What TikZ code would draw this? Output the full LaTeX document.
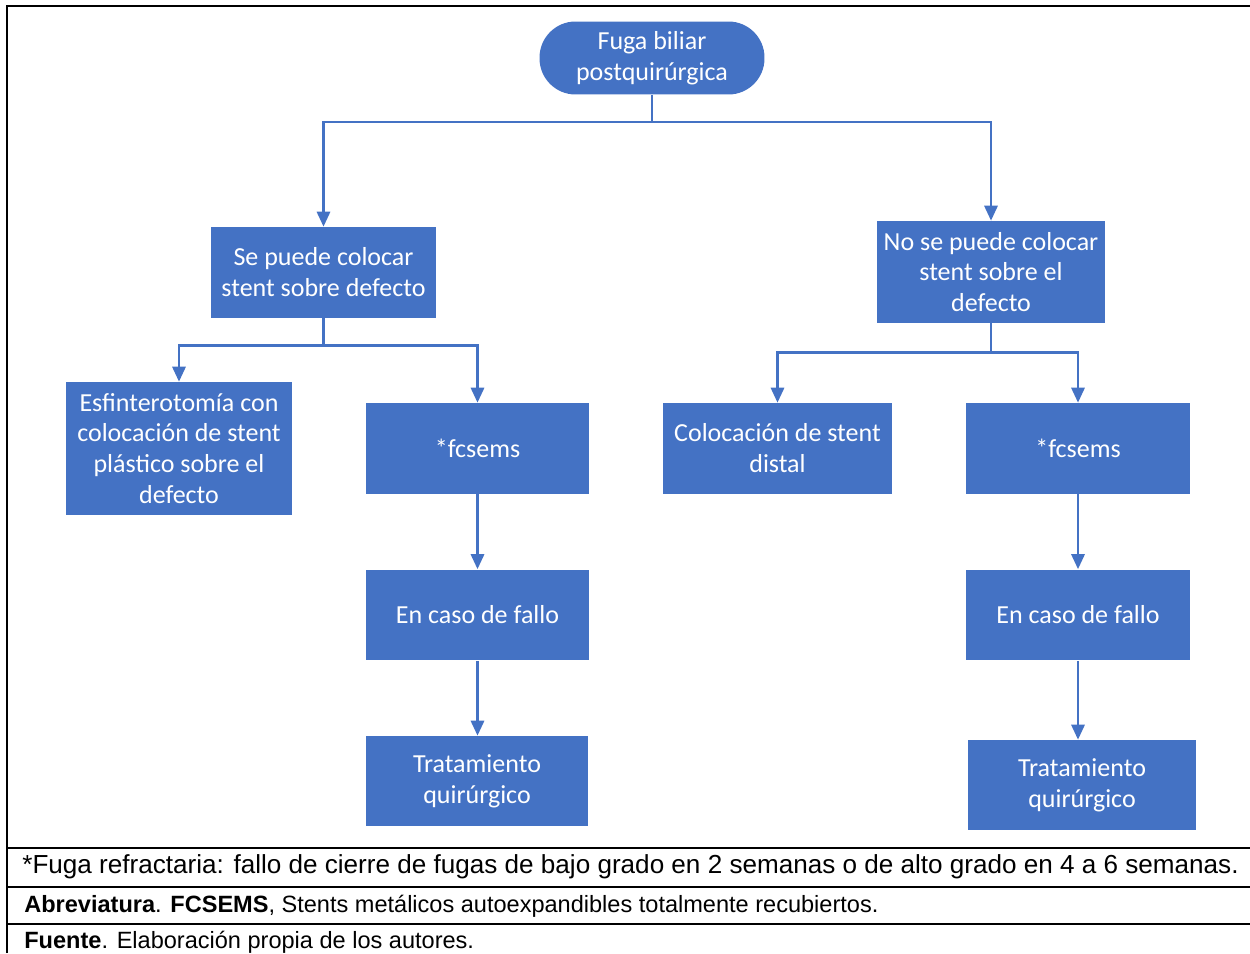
\documentclass[tikz,border=0pt]{standalone}
\usepackage{fontspec}
\setmainfont{Liberation Sans}
\newfontfamily\boxfont{Carlito}
\usetikzlibrary{arrows.meta}
\definecolor{boxblue}{HTML}{4472C4}
\tikzset{
  stepbox/.style={fill=boxblue, text=white, align=center, inner sep=0pt,
    minimum width=4.5cm, minimum height=1.82cm,
    font=\boxfont\fontsize{14.8}{17.6}\selectfont},
  link/.style={draw=boxblue, line width=1.4pt, -{Triangle[width=7.5pt,length=8.5pt]}},
  rule/.style={line width=1.2pt}
}
\begin{document}
\begin{tikzpicture}[x=0.02cm, y=-0.02cm]
  \useasboundingbox (0,0) rectangle (1250,953);
  % table frame
  \draw[rule] (7,953) -- (7,6) -- (1250,6);
  \draw[rule] (7,848) -- (1250,848);
  \draw[rule] (7,887) -- (1250,887);
  \draw[rule] (7,924) -- (1250,924);
  % nodes
  \node[stepbox, rounded corners=0.72cm, minimum height=1.46cm] (root) at (652,58) {Fuga biliar\\postquirúrgica};
  \node[stepbox] (lone) at (323.5,272.5) {Se puede colocar\\stent sobre defecto};
  \node[stepbox, minimum width=4.56cm, minimum height=2.04cm] (rone) at (991,272) {No se puede colocar\\stent sobre el\\defecto};
  \node[stepbox, minimum width=4.52cm, minimum height=2.66cm] (lesf) at (179,448.5) {Esfinterotomía con\\colocación de stent\\plástico sobre el\\defecto};
  \node[stepbox, minimum width=4.46cm] (lfcs) at (477.5,448.5) {*fcsems};
  \node[stepbox, minimum width=4.58cm] (rcol) at (777.5,448.5) {Colocación de stent\\distal};
  \node[stepbox, minimum width=4.48cm] (rfcs) at (1078,448.5) {*fcsems};
  \node[stepbox, minimum width=4.46cm] (lfal) at (477.5,615) {En caso de fallo};
  \node[stepbox, minimum width=4.48cm] (rfal) at (1078,615) {En caso de fallo};
  \node[stepbox, minimum width=4.44cm, minimum height=1.8cm] (ltrq) at (477,781) {Tratamiento\\quirúrgico};
  \node[stepbox, minimum width=4.56cm, minimum height=1.8cm] (rtrq) at (1082,785) {Tratamiento\\quirúrgico};
  % connectors
  \draw[link] (root.south) -- ++(0,27) -| (lone.north);
  \draw[link] (root.south) -- ++(0,27) -| (rone.north);
  \draw[link] (lone.south) -- ++(0,27) -| (lesf.north);
  \draw[link] (lone.south) -- ++(0,27) -| (lfcs.north);
  \draw[link] (rone.south) -- ++(0,29) -| (rcol.north);
  \draw[link] (rone.south) -- ++(0,29) -| (rfcs.north);
  \draw[link] (lfcs.south) -- (lfal.north);
  \draw[link] (lfal.south) -- (lfal.south |- ltrq.north);
  \draw[link] (rfcs.south) -- (rfal.north);
  \draw[link] (rfal.south) -- (rfal.south |- rtrq.north);
  % footer
  \node[anchor=west, inner sep=0pt, font=\fontsize{14.85}{17}\selectfont] (note) at (22,867) {*Fuga refractaria: fallo de cierre de fugas de bajo grado en 2 semanas o de alto grado en 4 a 6 semanas.};
  \node[anchor=west, inner sep=0pt, font=\fontsize{13.4}{15}\selectfont] (abbr) at (24,906) {\textbf{Abreviatura}. \textbf{FCSEMS}, Stents metálicos autoexpandibles totalmente recubiertos.};
  \node[anchor=west, inner sep=0pt, font=\fontsize{13.4}{15}\selectfont] (src) at (24,942) {\textbf{Fuente}. Elaboración propia de los autores.};
\end{tikzpicture}
\end{document}
